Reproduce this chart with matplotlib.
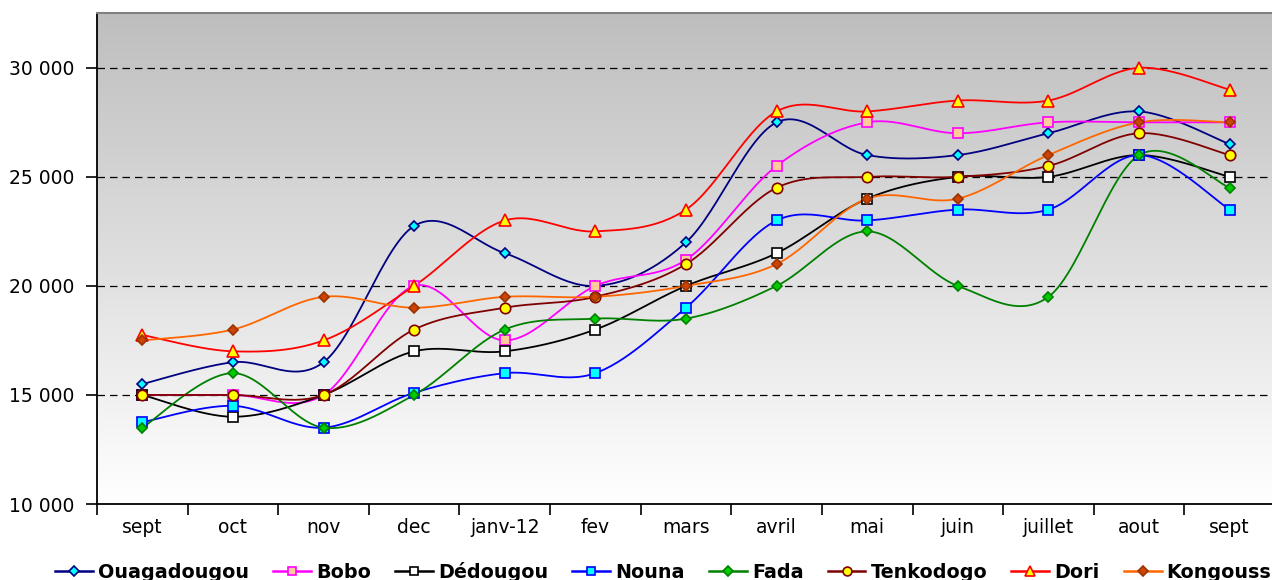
import numpy as np
import matplotlib
matplotlib.use("Agg")
import matplotlib.pyplot as plt
from matplotlib.colors import LinearSegmentedColormap
from matplotlib.lines import Line2D

months = ["sept", "oct", "nov", "dec", "janv-12", "fev", "mars", "avril", "mai",
          "juin", "juillet", "aout", "sept"]

ouagadougou = [15500, 16500, 16500, 22750, 21500, 20000, 22000, 27500, 26000, 26000, 27000, 28000, 26500]
bobo        = [15000, 15000, 15000, 20000, 17500, 20000, 21200, 25500, 27500, 27000, 27500, 27500, 27500]
dedougou    = [15000, 14000, 15000, 17000, 17000, 18000, 20000, 21500, 24000, 25000, 25000, 26000, 25000]
nouna       = [13750, 14500, 13500, 15100, 16000, 16000, 19000, 23000, 23000, 23500, 23500, 26000, 23500]
fada        = [13500, 16000, 13500, 15000, 18000, 18500, 18500, 20000, 22500, 20000, 19500, 26000, 24500]
tenkodogo   = [15000, 15000, 15000, 18000, 19000, 19500, 21000, 24500, 25000, 25000, 25500, 27000, 26000]
dori        = [17750, 17000, 17500, 20000, 23000, 22500, 23500, 28000, 28000, 28500, 28500, 30000, 29000]
kongoussi   = [17500, 18000, 19500, 19000, 19500, 19500, 20000, 21000, 24000, 24000, 26000, 27500, 27500]

series_names = ["Ouagadougou", "Bobo", "Dédougou", "Nouna", "Fada", "Tenkodogo", "Dori", "Kongoussi"]
series_values = [ouagadougou, bobo, dedougou, nouna, fada, tenkodogo, dori, kongoussi]

styles = [
    dict(color="#000080", marker="D", mfc="#00FFFF", mec="#000080", ms=5.5),
    dict(color="#FF00FF", marker="s", mfc="#FFCC99", mec="#FF00FF", ms=7.5),
    dict(color="#000000", marker="s", mfc="#FFFFFF", mec="#000000", ms=7.5),
    dict(color="#0000FF", marker="s", mfc="#00FFFF", mec="#0000FF", ms=7.5),
    dict(color="#008000", marker="D", mfc="#00CC00", mec="#008000", ms=5.5),
    dict(color="#800000", marker="o", mfc="#FFFF00", mec="#800000", ms=7.5),
    dict(color="#FF0000", marker="^", mfc="#FFFF00", mec="#FF0000", ms=8.5),
    dict(color="#FF6600", marker="D", mfc="#CC4400", mec="#993300", ms=5.5),
]


def smooth(x, y, n=30):
    """Excel-like smoothed line (Catmull-Rom style Bezier through the points)."""
    x = np.asarray(x, float)
    y = np.asarray(y, float)
    P = np.column_stack([x, y])
    out = []
    for i in range(len(P) - 1):
        p0 = P[i - 1] if i > 0 else P[i]
        p1 = P[i]
        p2 = P[i + 1]
        p3 = P[i + 2] if i + 2 < len(P) else P[i + 1]
        c1 = p1 + (p2 - p0) / 6.0
        c2 = p2 - (p3 - p1) / 6.0
        t = np.linspace(0, 1, n)[:, None]
        seg = ((1 - t) ** 3) * p1 + 3 * ((1 - t) ** 2) * t * c1 + 3 * (1 - t) * t ** 2 * c2 + t ** 3 * p2
        if i > 0:
            seg = seg[1:]
        out.append(seg)
    out = np.vstack(out)
    return out[:, 0], out[:, 1]


W, H = 1272, 580
fig = plt.figure(figsize=(W / 100, H / 100), dpi=100)
fig.patch.set_facecolor("white")

left, right, top, bottom = 97, 1275, 13.3, 504
ax = fig.add_axes([left / W, 1 - bottom / H, (right - left) / W, (bottom - top) / H])

ymin, ymax = 10000, 32500
xs = np.arange(len(months))
ax.set_xlim(-0.5, len(months) - 0.5)
ax.set_ylim(ymin, ymax)

# gradient background
grad = np.linspace(0, 1, 256)[:, None]
cmap = LinearSegmentedColormap.from_list("bg", ["#FFFFFF", "#BEBEBE"])
ax.imshow(grad, extent=(-0.5, len(months) - 0.5, ymin, ymax), origin="lower",
          aspect="auto", cmap=cmap, zorder=0)

for yv in [15000, 20000, 25000, 30000]:
    ax.axhline(yv, color="#000000", lw=0.9, ls=(0, (6, 4)), zorder=1)

for name, vals, st in zip(series_names, series_values, styles):
    sx, sy = smooth(xs, vals)
    ax.plot(sx, sy, color=st["color"], lw=1.3, zorder=3, solid_capstyle="round")
    ax.plot(xs, vals, ls="none", marker=st["marker"], mfc=st["mfc"], mec=st["mec"],
            ms=st["ms"], mew=1.2, zorder=4)

ax.set_yticks([10000, 15000, 20000, 25000, 30000])
ax.set_yticklabels([f"{v:,}".replace(",", " ") for v in [10000, 15000, 20000, 25000, 30000]])
ax.set_xticks(xs)
ax.set_xticklabels(months)
ax.set_xticks(np.arange(-0.5, len(months) + 0.5, 1), minor=True)
ax.tick_params(axis="x", which="major", length=0, pad=10, labelsize=13.5)
ax.tick_params(axis="x", which="minor", length=8, width=1.2, direction="out")
ax.tick_params(axis="y", length=8, width=1.2, direction="out", pad=8, labelsize=13.5)
for lab in ax.get_xticklabels() + ax.get_yticklabels():
    lab.set_fontfamily("DejaVu Sans")

ax.spines["left"].set_color("black")
ax.spines["left"].set_linewidth(1.3)
ax.spines["bottom"].set_color("black")
ax.spines["bottom"].set_linewidth(1.3)
ax.spines["top"].set_color("#808080")
ax.spines["top"].set_linewidth(1.5)
ax.spines["right"].set_visible(False)

# legend (runs off the right edge, as in the reference)
handles = []
for name, st in zip(series_names, styles):
    handles.append(Line2D([0], [0], color=st["color"], lw=1.8, marker=st["marker"],
                          mfc=st["mfc"], mec=st["mec"], ms=st["ms"] * 0.85, mew=1.2))
leg = fig.legend(handles, series_names, loc="center left", bbox_to_anchor=(55 / W, 1 - 572 / H),
                 ncol=8, frameon=False, handlelength=1.98, handletextpad=0.26,
                 columnspacing=1.26, borderaxespad=0, borderpad=0,
                 prop=dict(family="DejaVu Sans", weight="bold", size=13.8))

fig.savefig("out.png", dpi=100)
